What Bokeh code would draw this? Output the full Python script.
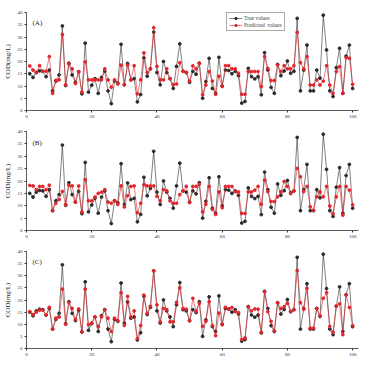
from bokeh.plotting import figure
from bokeh.layouts import column
from bokeh.models import Legend, LegendItem, Label, FixedTicker, ColumnDataSource
from bokeh.embed import file_html
from bokeh.resources import INLINE

x = list(range(1, 101))

true_vals = [15, 13.5, 15.5, 16.2, 16, 13.8, 16.5, 8, 12, 14.5,
             34.5, 10.2, 19.3, 14.5, 11.5, 15.8, 6.8, 27.5, 7.5, 10.3,
             13, 7, 13.5, 16, 8, 2.8, 12, 11.2, 27, 10.5,
             19.2, 12.5, 13, 3.5, 6.5, 21.5, 14, 17, 32, 15.5,
             10.5, 20, 15.5, 13, 9, 18, 27.2, 16, 15.5, 11.5,
             16, 14.8, 19.3, 5, 11.8, 21.3, 9, 7, 21.7, 10,
             16.5, 16.3, 15, 16, 14.2, 3, 3.7, 17.2, 13.8, 12.9,
             13.8, 6.4, 23.6, 16.5, 9.4, 7, 18.8, 14.2, 16.1, 20.2,
             15.2, 16, 37.6, 8, 16.5, 26.7, 8, 8, 16.5, 13.2,
             38.9, 24.7, 8, 5.7, 17.5, 25.4, 7, 22.2, 26.7, 9]

pred_a = [18.2, 16.5, 15.5, 18.3, 16, 16, 22, 7, 12.3, 12.5,
          31, 10.5, 19, 17, 11, 15.8, 7.5, 19.8, 12.5, 12.5,
          12.5, 12.5, 12.5, 17, 12.5, 9.5, 12.5, 10.8, 18.5, 10.5,
          18.5, 12.5, 18.3, 6.8, 12.5, 23.5, 15.5, 17, 33.8, 18,
          12.5, 12.5, 17, 13, 10.5, 10.8, 19.5, 16, 15.5, 12,
          18.2, 17, 19.3, 6.4, 10.4, 15.9, 12, 6.6, 14, 9.8,
          18.3, 18.3, 17, 17, 15.2, 6.6, 6.6, 15.9, 15.9, 15.9,
          15.9, 9.8, 22, 17.2, 12.2, 12.2, 18.6, 15.9, 18.3, 17,
          17, 18.3, 31.9, 19.5, 17, 22, 10.4, 10.4, 12.5, 10.4,
          12, 18.3, 10.4, 7, 15.9, 17.9, 7, 21.6, 21.3, 10.7]

pred_b = [18.2, 18, 16.5, 17.8, 17.8, 16.5, 18.3, 8, 11, 12.5,
          15.8, 10.5, 18.3, 18, 11.5, 18, 7.5, 20.5, 12, 12,
          13.5, 15, 15.5, 16.5, 11.5, 11, 12, 10.5, 18, 9.5,
          14, 17.8, 18, 7.2, 11, 18.5, 18, 18, 18, 13.8,
          12, 16.5, 16, 12, 11, 11, 14.5, 16, 17.8, 11.3,
          17.8, 17.8, 18.7, 7.5, 10.6, 17.8, 8.5, 6.5, 15.6, 9.2,
          17.8, 17.8, 17.8, 15.7, 15.6, 6.9, 6.9, 15.6, 15.6, 16.3,
          17.8, 10.6, 20.3, 15.7, 11.7, 11.7, 13.6, 15.6, 19.8, 17.8,
          14.9, 16, 25.1, 21.7, 15.7, 17.8, 9.6, 8.1, 13.6, 15.6,
          13.6, 17.8, 9.9, 6.8, 13.6, 17.8, 6.2, 17.8, 16.3, 10.3]

pred_c = [15.2, 14, 15, 15.8, 15.8, 13.8, 17, 8, 12.5, 13,
          24.5, 10, 19, 16.5, 12, 16.3, 7, 24.5, 9.8, 10.5,
          13, 9, 13, 16, 12.5, 7, 12.5, 11.5, 23, 9.5,
          21.5, 13, 15.5, 4, 9.5, 22, 14.5, 17.5, 32, 18,
          11, 16.5, 16, 11, 11, 19, 25, 16.5, 16.2, 11.4,
          20.7, 15.4, 18.6, 9.1, 11.2, 19.3, 9.4, 5.3, 14.6, 9.8,
          17, 16.2, 16.9, 15.2, 14.8, 3.7, 4.4, 17.3, 15.5, 16.3,
          16.2, 6.7, 23.4, 15.2, 11.2, 7.3, 18.9, 16.5, 17.3, 18.6,
          15.2, 16, 32.2, 18.9, 16.2, 24.8, 8.4, 8.4, 16.5, 13.5,
          20.7, 23, 9.1, 6.7, 17.5, 18.4, 5.7, 22, 16.9, 9.4]

x_ticks = [0, 20, 40, 60, 80, 100]
y_ticks = [0, 5, 10, 15, 20, 25, 30, 35, 40]
panel_labels = ["(A)", "(B)", "(C)"]
legend_labels = ["True values", "Predicted  values"]

FONT = "Liberation Serif"
BLACK = "#2b2b2b"
RED = "#e3262b"


def make_panel(pred, label, heights, show_legend):
    h, top, bottom = heights
    p = figure(width=376, height=h, x_range=(0, 101.8), y_range=(0, 40),
               output_backend="svg", toolbar_location=None,
               min_border_left=22, min_border_right=18,
               min_border_top=top, min_border_bottom=bottom)
    p.outline_line_color = None
    p.grid.grid_line_color = None
    p.background_fill_color = "white"
    p.border_fill_color = "white"
    for ax in (p.xaxis[0], p.yaxis[0]):
        ax.axis_line_color = "#333333"
        ax.axis_line_width = 0.8
        ax.major_tick_line_color = "#333333"
        ax.major_tick_out = 2
        ax.major_tick_in = 0
        ax.minor_tick_out = 0
        ax.minor_tick_in = 0
        ax.major_label_text_font = FONT
        ax.major_label_text_font_size = "5px"
        ax.major_label_text_color = "#333333"
        ax.major_label_standoff = 2
    p.xaxis.ticker = FixedTicker(ticks=x_ticks)
    p.yaxis.ticker = FixedTicker(ticks=y_ticks)
    p.yaxis.axis_label = "COD(mg/L)"
    p.yaxis.axis_label_text_font = FONT
    p.yaxis.axis_label_text_font_style = "normal"
    p.yaxis.axis_label_text_font_size = "7px"
    p.yaxis.axis_label_standoff = 3
    p.yaxis.axis_label_text_color = "#222222"

    src = ColumnDataSource(dict(x=x, t=true_vals, p=pred))
    l1 = p.line("x", "t", source=src, line_color=BLACK, line_width=0.6)
    s1 = p.scatter("x", "t", source=src, marker="circle", size=2.8,
                   fill_color=BLACK, line_color=BLACK)
    l2 = p.line("x", "p", source=src, line_color=RED, line_width=0.6)
    s2 = p.scatter("x", "p", source=src, marker="circle", size=2.8,
                   fill_color=RED, line_color=RED)

    p.add_layout(Label(x=6, y=h - top - bottom - 15, x_units="screen",
                       y_units="screen", text=label, text_font=FONT,
                       text_font_size="7px", text_color="#222222"))

    if show_legend:
        leg = Legend(items=[LegendItem(label=legend_labels[0], renderers=[l1, s1]),
                            LegendItem(label=legend_labels[1], renderers=[l2, s2])],
                     location=(200, 79), orientation="vertical")
        leg.label_text_font = FONT
        leg.label_text_font_size = "5.5px"
        leg.label_text_line_height = 1.0
        leg.label_height = 6
        leg.glyph_height = 6
        leg.glyph_width = 13
        leg.label_standoff = 2
        leg.spacing = 1
        leg.padding = 2
        leg.margin = 0
        leg.border_line_color = "#555555"
        leg.border_line_width = 0.6
        leg.background_fill_alpha = 1
        p.add_layout(leg, "center")
    return p


pa = make_panel(pred_a, panel_labels[0], (120, 12, 9), True)
pb = make_panel(pred_b, panel_labels[1], (120, 11, 10), False)
pc = make_panel(pred_c, panel_labels[2], (118, 11, 9), False)

layout = column(pa, pb, pc, spacing=0)
open("out.html", "w").write(file_html(layout, INLINE))
